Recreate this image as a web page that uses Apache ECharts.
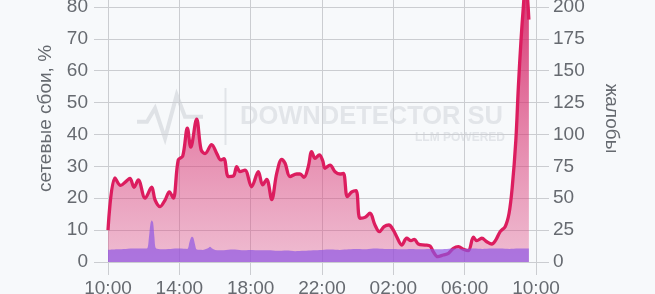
<!DOCTYPE html>
<html>
<head>
<meta charset="utf-8">
<script src="https://cdn.jsdelivr.net/npm/echarts@6/dist/echarts.min.js"></script>
<style>
html,body{margin:0;padding:0;background:#f7f9fb;}
#c{width:655px;height:294px;}
</style>
</head>
<body>
<div id="c"></div>
<script>
// x tick labels (every 4 hours starting at 10:00)
const tickLabels = ['10:00','14:00','18:00','22:00','02:00','06:00','10:00'];
// complaints (жалобы), [hours since 10:00, value]
const complaintHours = [0,0.39,0.71,1.0,1.23,1.46,1.70,2.08,2.45,2.64,2.92,3.2,3.44,3.66,3.94,4.19,4.45,4.64,4.97,5.22,5.44,5.81,6.1,6.32,6.5,6.75,7.03,7.22,7.4,7.68,8.05,8.43,8.67,8.9,9.18,9.46,9.74,9.93,10.21,10.58,10.77,10.99,11.23,11.42,11.61,11.85,12.04,12.17,12.45,12.73,13.01,13.2,13.42,13.67,13.91,14.13,14.41,14.69,14.97,15.22,15.48,15.75,16.0,16.19,16.47,16.75,16.99,17.18,17.4,17.78,18.06,18.24,18.49,18.8,19.09,19.37,19.65,19.93,20.21,20.49,20.68,20.96,21.24,21.52,21.74,21.99,22.27,22.49,22.67,22.87,23.01,23.16,23.29,23.42,23.6];
const complaints = [25,66,60,63,65.6,58.6,64.3,50,58.6,48.6,43.4,48.6,55,50,80,83,105,90,112,88,85,92,85,80,81,67,67.4,74.7,70.8,72,59,70.8,60.4,64.8,49,69.5,80.5,77.4,67,69,69,66.4,74.7,86.5,81.3,84,79.4,73.5,76,70.8,69,69.5,51.2,55,56,34.3,35,38.2,29,23.8,27.7,29,25,19.8,13.3,18.6,16.7,17.8,14.1,13.3,12.5,8.1,4.2,5.5,6.8,10.7,12,10,8.9,19.4,16.7,18.6,15.9,14.1,17.2,23.8,27.7,38.2,59,95.6,137,174,200,222,190];
// network failures (сетевые сбои, %)
const failHours = [0,0.5,1,1.5,2,2.2,2.3,2.38,2.45,2.53,2.6,2.7,3,3.5,4,4.45,4.56,4.65,4.72,4.8,4.88,4.98,5.3,5.6,5.72,5.85,6,6.5,7,7.5,8,8.5,9,9.5,10,10.5,11,11.5,12,12.5,13,13.5,14,14.5,15,15.5,16,16.5,17,17.5,18,18.5,19,19.5,20,20.5,21,21.5,22,22.5,23,23.6];
const failures = [3.8,4.0,4.1,4.2,4.2,4.3,8,12,13,12.3,8,4.2,4.0,4.1,4.2,4.1,6,7.6,7.9,7.4,5.5,3.9,3.8,4.3,4.8,4.2,3.8,3.7,3.9,3.7,3.8,3.7,3.7,3.5,3.6,3.4,3.5,3.7,3.8,3.9,3.8,4.0,4.1,4.0,4.2,4.1,4.1,4.0,4.1,4.0,4.1,4.0,4.1,4.2,4.1,4.2,4.1,4.2,4.2,4.1,4.2,4.2];

const redData = complaintHours.map((h,i)=>[h, complaints[i]]);
const purpleData = failHours.map((h,i)=>[h, failures[i]]);

const gridColor = '#cbcdd1';
const textColor = '#666a70';
const font = 'Liberation Sans';

const chart = echarts.init(document.getElementById('c'));
chart.setOption({
  backgroundColor: '#f7f9fb',
  animation: false,
  textStyle: {fontFamily: font},
  grid: {left: 108, right: 119, top: -25, bottom: 32, outerBoundsMode: 'none'},
  graphic: [
    {type:'polyline', z: 0, silent: true,
     shape:{points:[[137,121.7],[147,121.7],[155,108.3],[165,138.3],[176.7,95],[185,116.7],[203,116.7]]},
     style:{stroke:'#dfe2e6', lineWidth:4, fill:null, lineJoin:'miter'}},
    {type:'line', z:0, silent:true, shape:{x1:225.5,y1:88,x2:225.5,y2:145}, style:{stroke:'#e1e4e8', lineWidth:2}},
    {type:'text', z:0, silent:true, left:240, top:104,
     style:{text:'DOWNDETECTOR SU', font:'bold 25.5px "Liberation Sans"', fill:'#e2e5e9'}},
    {type:'text', z:0, silent:true, right:150, top:132,
     style:{text:'LLM POWERED', font:'bold 12px "Liberation Sans"', fill:'#e2e5e9', align:'right'}}
  ],
  xAxis: {
    type: 'value', min: 0, max: 24, interval: 4,
    axisLine: {show: false},
    axisTick: {show: true, length: 13, lineStyle: {color: gridColor}},
    splitLine: {show: true, lineStyle: {color: gridColor, width: 1}},
    axisLabel: {color: textColor, fontSize: 19, margin: 17, fontFamily: font,
      formatter: (v)=> tickLabels[Math.round(v/4)]}
  },
  yAxis: [
    {type:'value', min:0, max:90, interval:10, position:'left',
     name:'сетевые сбои, %', nameLocation:'middle', nameGap: 53,
     nameTextStyle:{color:textColor, fontSize:19, fontFamily:font},
     axisLine:{show:false},
     axisTick:{show:true, length:14, lineStyle:{color:gridColor}},
     splitLine:{show:true, lineStyle:{color:gridColor, width:1}},
     axisLabel:{color:textColor, fontSize:19, margin:20, fontFamily:font}},
    {type:'value', min:0, max:225, interval:25, position:'right',
     name:'жалобы', nameLocation:'middle', nameGap: 66, nameRotate: -90,
     nameTextStyle:{color:textColor, fontSize:19, fontFamily:font},
     axisLine:{show:false},
     axisTick:{show:true, length:13, lineStyle:{color:gridColor}},
     splitLine:{show:false},
     axisLabel:{color:textColor, fontSize:19, margin:17, fontFamily:font}}
  ],
  series: [
    {type:'line', yAxisIndex:1, data: redData, smooth: 0.35, symbol:'none', clip:false, z: 3,
     lineStyle:{color:'#dc1d5f', width:3.3},
     areaStyle:{opacity:1, color: new echarts.graphic.LinearGradient(0,0,0,1,[
       {offset:0, color:'rgba(212,30,98,0.92)'},
       {offset:0.55, color:'rgba(216,50,112,0.58)'},
       {offset:1, color:'rgba(224,80,135,0.36)'}])}},
    {type:'line', yAxisIndex:0, data: purpleData, smooth: 0.3, symbol:'none', z: 4,
     lineStyle:{width:0},
     areaStyle:{color:'rgba(140,82,228,0.68)', opacity:1}}
  ]
});
</script>
</body>
</html>
